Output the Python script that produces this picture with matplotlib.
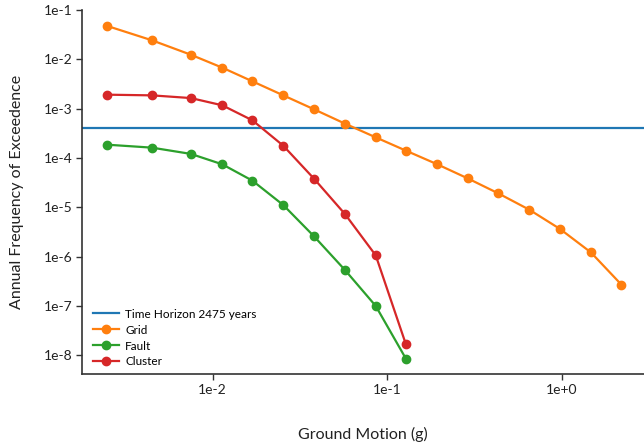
import matplotlib
matplotlib.use("Agg")
import matplotlib.pyplot as plt
from matplotlib.ticker import FixedLocator, NullLocator

plt.rcParams['font.family'] = ['Lato', 'DejaVu Sans']

time_horizon = 1.0 / 2475.0

grid_x = [0.00249, 0.00449, 0.0075, 0.01135, 0.0169, 0.0254, 0.0381, 0.0573,
          0.086, 0.128, 0.192, 0.289, 0.433, 0.652, 0.978, 1.47, 2.2]
grid_y = [0.0474, 0.0243, 0.0124, 0.00678, 0.00358, 0.00186, 0.00097, 0.000497,
          0.000262, 0.000141, 7.55e-5, 3.87e-5, 1.92e-5, 8.95e-6, 3.64e-6,
          1.22e-6, 2.7e-7]

fault_x = grid_x[:10]
fault_y = [1.86e-4, 1.62e-4, 1.21e-4, 7.45e-5, 3.47e-5, 1.11e-5, 2.58e-6,
           5.36e-7, 1.0e-7, 8.55e-9]

cluster_x = grid_x[:10]
cluster_y = [0.00192, 0.00186, 0.00164, 0.00117, 0.00058, 0.000177, 3.8e-5,
             7.3e-6, 1.06e-6, 1.67e-8]

y_ticks = [1e-8, 1e-7, 1e-6, 1e-5, 1e-4, 1e-3, 1e-2, 1e-1]
y_tick_labels = ["1e-8", "1e-7", "1e-6", "1e-5", "1e-4", "1e-3", "1e-2", "1e-1"]
x_ticks = [1e-2, 1e-1, 1e0]
x_tick_labels = ["1e-2", "1e-1", "1e+0"]

fig = plt.figure(figsize=(6.44, 4.46), dpi=100)
ax = fig.add_axes([82.3 / 644, (446 - 374.3) / 446, 1 - 82.3 / 644, (374.3 - 10) / 446])
ax.set_xscale('log')
ax.set_yscale('log')

ax.axhline(time_horizon, color='#1f77b4', lw=1.6, label='Time Horizon 2475 years')
ax.plot(grid_x, grid_y, color='#ff7f0e', lw=1.6, marker='o', ms=6, label='Grid')
ax.plot(fault_x, fault_y, color='#2ca02c', lw=1.6, marker='o', ms=6, label='Fault')
ax.plot(cluster_x, cluster_y, color='#d62728', lw=1.6, marker='o', ms=6, label='Cluster')

ax.set_xlim(10 ** -2.747, 10 ** 0.4716)
ax.set_ylim(10 ** -8.385, 1e-1)

ax.yaxis.set_major_locator(FixedLocator(y_ticks))
ax.yaxis.set_minor_locator(NullLocator())
ax.set_yticklabels(y_tick_labels)
ax.xaxis.set_major_locator(FixedLocator(x_ticks))
ax.xaxis.set_minor_locator(NullLocator())
ax.set_xticklabels(x_tick_labels)

for s in ['top', 'right']:
    ax.spines[s].set_visible(False)
for s in ['left', 'bottom']:
    ax.spines[s].set_color('#333333')
    ax.spines[s].set_linewidth(1.2)
ax.tick_params(axis='both', direction='out', length=4, width=1, color='#333333',
               labelsize=10, labelcolor='#222222', pad=3)

ax.set_xlabel('Ground Motion (g)', fontsize=11.5, color='#222222', labelpad=22)
ax.set_ylabel('Annual Frequency of Exceedence', fontsize=11.5, color='#222222', labelpad=14)

leg = ax.legend(loc='lower left', frameon=False, fontsize=8.5, handlelength=2.2,
                handletextpad=0.5, labelspacing=0.42, borderaxespad=0.3,
                bbox_to_anchor=(0.005, -0.004))

fig.savefig('out.png', dpi=100)
